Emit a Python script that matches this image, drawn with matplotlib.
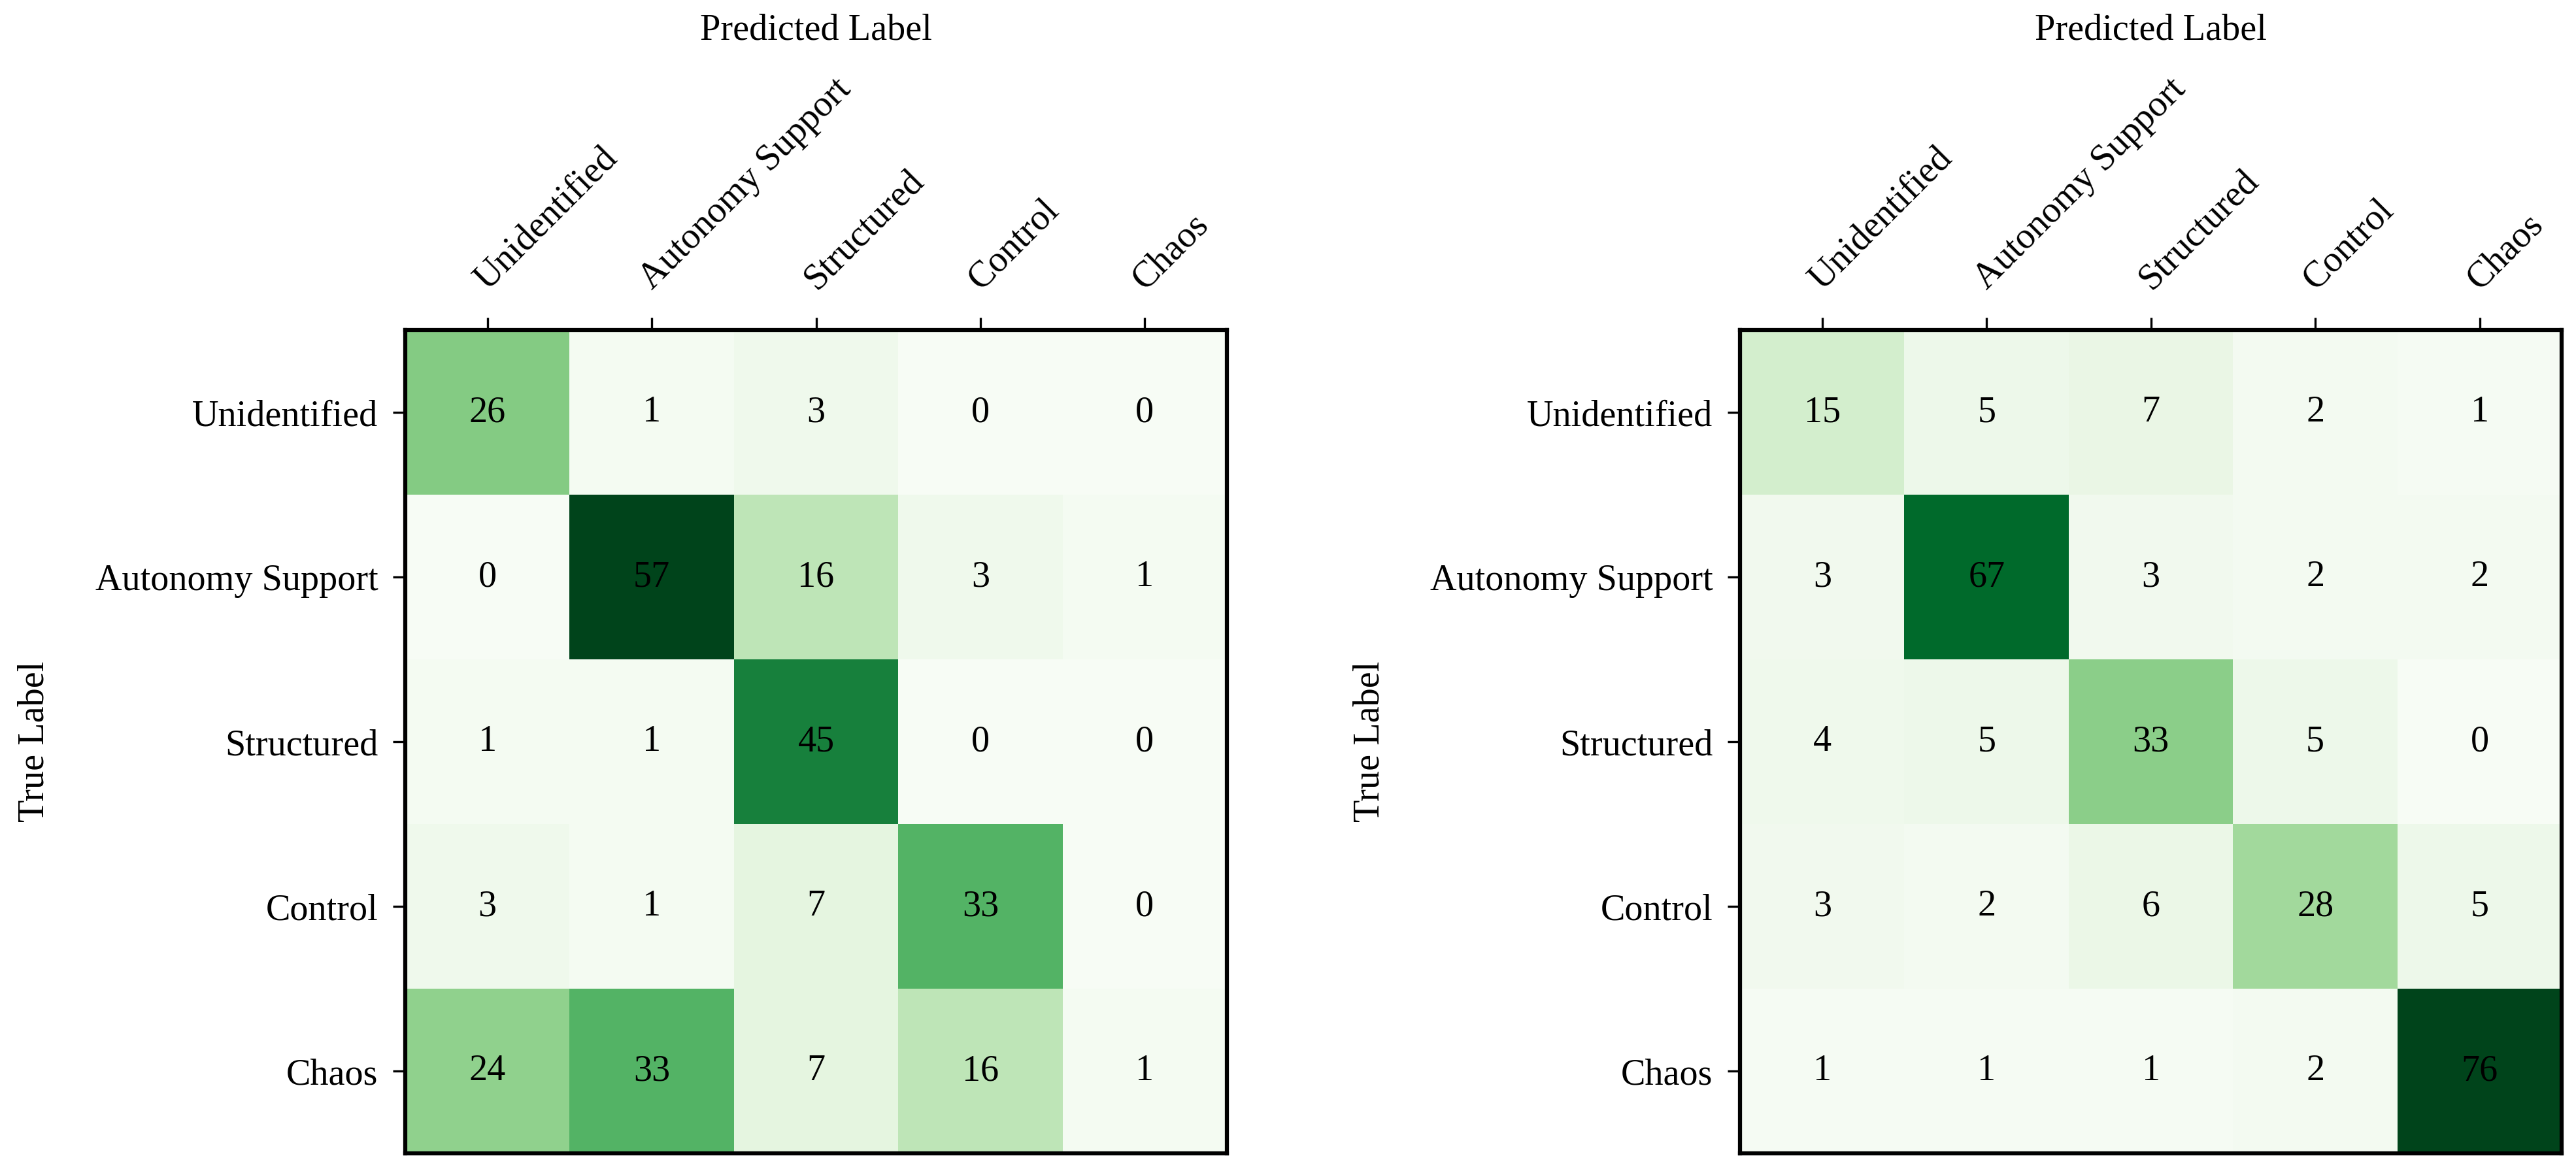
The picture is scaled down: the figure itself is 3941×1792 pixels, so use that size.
import matplotlib.pyplot as plt
import numpy as np

# class names shared by both matrices
labels = ['Unidentified', 'Autonomy Support', 'Structured', 'Control', 'Chaos']

# left confusion matrix (rows = true, cols = predicted)
cm_left = [[26, 1, 3, 0, 0],
           [0, 57, 16, 3, 1],
           [1, 1, 45, 0, 0],
           [3, 1, 7, 33, 0],
           [24, 33, 7, 16, 1]]

# right confusion matrix
cm_right = [[15, 5, 7, 2, 1],
            [3, 67, 3, 2, 2],
            [4, 5, 33, 5, 0],
            [3, 2, 6, 28, 5],
            [1, 1, 1, 2, 76]]

plt.rcParams['font.family'] = ['Liberation Serif', 'DejaVu Serif']
FS = 13.5


def draw_matrix(ax, cm):
    cm = np.array(cm)
    ax.imshow(cm, cmap='Greens', vmin=0, vmax=cm.max(), aspect='auto')
    for i in range(cm.shape[0]):
        for j in range(cm.shape[1]):
            ax.text(j, i, str(cm[i, j]), ha='center', va='center',
                    fontsize=FS, color='black')
    ax.set_xticks(range(len(labels)))
    ax.set_yticks(range(len(labels)))
    ax.xaxis.tick_top()
    ax.xaxis.set_label_position('top')
    ax.set_xticklabels(labels, rotation=45, ha='left', va='baseline',
                       rotation_mode='anchor', fontsize=FS)
    ax.set_yticklabels(labels, fontsize=FS)
    ax.set_xlabel('Predicted Label', fontsize=FS, labelpad=12)
    ax.set_ylabel('True Label', fontsize=FS, labelpad=16)
    ax.tick_params(length=4.5, width=0.8)
    ax.tick_params(axis='x', pad=10)
    ax.tick_params(axis='y', pad=5.5)
    for s in ax.spines.values():
        s.set_linewidth(1.5)


fig = plt.figure(figsize=(3941 / 300, 1792 / 300), dpi=300)
ax1 = fig.add_axes([0.1573, 0.015, 0.319, 0.703])
ax2 = fig.add_axes([0.6755, 0.015, 0.319, 0.703])
draw_matrix(ax1, cm_left)
draw_matrix(ax2, cm_right)

fig.savefig('out.png', dpi=300)
